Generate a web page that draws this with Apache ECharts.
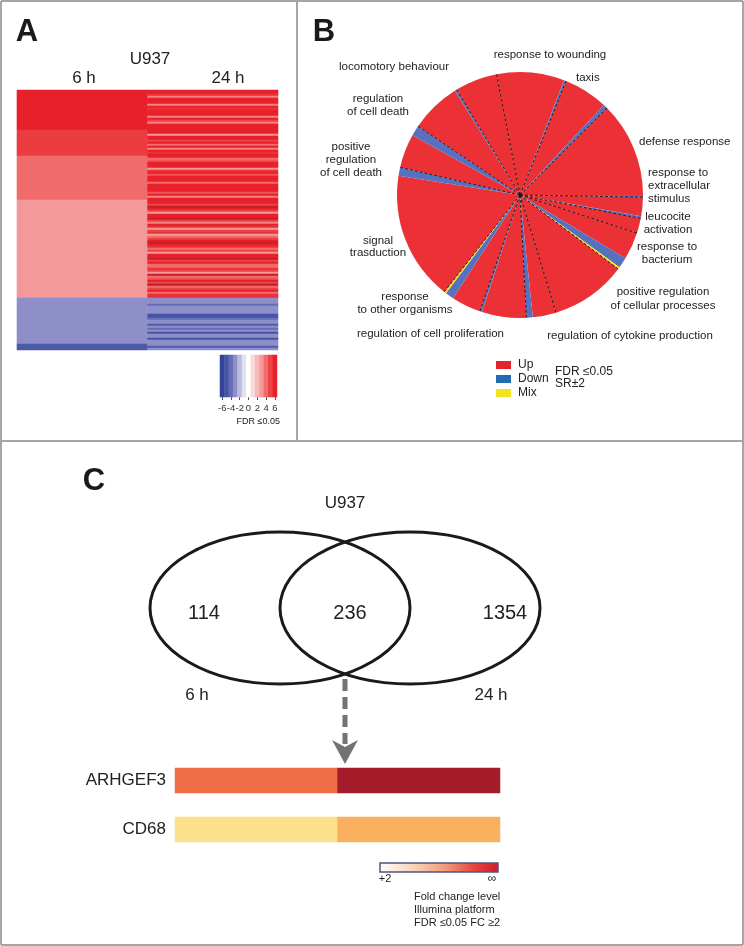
<!DOCTYPE html>
<html>
<head>
<meta charset="utf-8">
<script src="https://cdn.jsdelivr.net/npm/echarts@6/dist/echarts.min.js"></script>
<style>
  html, body { margin: 0; padding: 0; background: #fff; }
  #main { width: 744px; height: 946px; }
</style>
</head>
<body>
<div id="main"></div>
<script>
// ---- panel A: log2 ratio per gene row ----
const timePoints = ['6 h', '24 h'];
const heat6h = [
  6, 6, 6, 6, 6, 6, 6, 6, 6, 6, 6, 6, 6, 6, 6, 6, 6, 6, 6, 6,
  5.2, 5.2, 5.2, 5.2, 5.2, 5.2, 5.2, 5.2, 5.2, 5.2, 5.2, 5.2, 5.2,
  4, 4, 4, 4, 4, 4, 4, 4, 4, 4, 4, 4, 4, 4, 4, 4, 4, 4, 4, 4, 4, 4,
  3, 3, 3, 3, 3, 3, 3, 3, 3, 3, 3, 3, 3, 3, 3, 3, 3, 3, 3, 3, 3, 3, 3, 3, 3,
  3, 3, 3, 3, 3, 3, 3, 3, 3, 3, 3, 3, 3, 3, 3, 3, 3, 3, 3, 3, 3, 3, 3, 3,
  -3, -3, -3, -3, -3, -3, -3, -3, -3, -3, -3, -3, -3, -3, -3, -3, -3, -3, -3, -3, -3, -3, -3,
  -4.6, -4.6, -4.6
];
const heat24h = [
  6, 6, 5.5, 3.5, 6, 6, 6, 3.5, 6, 5.5, 6, 6, 6, 3.5, 6, 5, 3.5, 6, 6, 6,
  6, 6, 3, 6, 6, 5, 6, 4, 6, 3.5, 6, 5.5, 6, 6, 4, 4.5, 6, 6, 6, 3,
  5.5, 6, 4.5, 6, 6, 6, 4, 6, 6, 6, 6, 4.5, 6, 3.5, 6,
  6, 6, 5, 7, 6, 5, 3, 6, 6, 7, 5, 3.5, 6, 5.5, 3, 5, 5.5, 3, 4, 5,
  6, 7, 6, 5.5, 4, 5, 3, 6, 6, 7, 5, 6, 4, 4, 5.5, 5, 3, 7, 4, 4.5,
  6, 5, 7, 4, 5, 6, 4, 5.5, 5.5,
  -3, -3, -3, -4, -3, -3, -3, -3, -5, -5, -4, -3, -3, -4.5, -3, -4, -3, -5, -3, -3,
  -5, -3, -3, -3, -4.5, -3
];
const scaleSteps = [-6, -5, -4, -3, -2, -1, 0, 1, 2, 3, 4, 5, 6];

// ---- panel B: GO terms, slice share in degrees ----
const goTerms = [
  'response to wounding', 'taxis', 'defense response', 'response to extracellular stimulus',
  'leucocite activation', 'response to bacterium', 'positive regulation of cellular processes',
  'regulation of cytokine production', 'regulation of cell proliferation', 'response to other organisms',
  'signal trasduction', 'positive regulation of cell death', 'regulation of cell death', 'locomotory behaviour'
];
const upDeg   = [32, 21, 45, 9, 7, 13, 36, 11, 21, 14, 61, 16, 24, 20];
const downDeg = [1, 2, 1, 1, 0, 5, 0, 3, 1, 4, 4, 5, 1, 0];
const mixDeg  = [0, 0, 0, 0, 0, 1, 0, 0, 0, 1, 0, 0, 0, 0];

// ---- panel C: venn counts and fold change ----
const vennSets = ['6 h', '24 h'];
const vennCounts = [114, 236, 1354];
const genes = ['ARHGEF3', 'CD68'];
const fold6h = [6.8, 3.6];
const fold24h = [10, 5.2];

const FONT = "'Liberation Sans', Arial, sans-serif";
const chart = echarts.init(document.getElementById('main'), null, { renderer: 'canvas' });

const rows = heat6h.map((_, i) => i);
const heatData = [];
rows.forEach(i => {
  heatData.push([0, i, heat6h[i]]);
  heatData.push([1, i, heat24h[i]]);
});

// pie slices + boundary angles
const pieData = [];
const bounds = [];
let acc = 0;
goTerms.forEach((t, i) => {
  if (upDeg[i]) pieData.push({ name: t + ' up', value: upDeg[i], itemStyle: { color: '#ec3136' } });
  if (downDeg[i]) pieData.push({ name: t + ' down', value: downDeg[i], itemStyle: { color: '#5870c0' } });
  if (mixDeg[i]) pieData.push({ name: t + ' mix', value: mixDeg[i], itemStyle: { color: '#f3e21c' } });
  acc += upDeg[i] + downDeg[i] + mixDeg[i];
  bounds.push(acc);
});

const series = [
  {
    type: 'heatmap', xAxisIndex: 0, yAxisIndex: 0, data: heatData,
    itemStyle: { borderWidth: 0 }, silent: true
  },
  {
    type: 'heatmap', xAxisIndex: 1, yAxisIndex: 1,
    data: scaleSteps.map((v, i) => [i, 0, v]),
    itemStyle: { borderWidth: 0 }, silent: true
  },
  {
    type: 'pie', center: [520, 195], radius: [0, 123], startAngle: 101, clockwise: true,
    label: { show: false }, labelLine: { show: false }, silent: true,
    itemStyle: { borderWidth: 0 }, avoidLabelOverlap: false, data: pieData
  }
];
bounds.forEach(b => {
  series.push({
    type: 'line', coordinateSystem: 'polar', data: [[0, b], [1, b]],
    symbol: 'none', silent: true, z: 5,
    lineStyle: { color: '#151515', width: 0.9, type: [3, 2] }
  });
});
const iC = series.length;
series.push({
  type: 'heatmap', xAxisIndex: 2, yAxisIndex: 2,
  data: [[0, 0, fold6h[0]], [1, 0, fold24h[0]]], itemStyle: { borderWidth: 0 }, silent: true
});
series.push({
  type: 'heatmap', xAxisIndex: 3, yAxisIndex: 3,
  data: [[0, 0, fold6h[1]], [1, 0, fold24h[1]]], itemStyle: { borderWidth: 0 }, silent: true
});

function txt(x, y, text, size, opts) {
  opts = opts || {};
  return {
    type: 'text', x: x, y: y, silent: true,
    style: {
      text: text, fill: opts.color || '#222',
      font: (opts.bold ? 'bold ' : '') + size + 'px ' + FONT,
      textAlign: opts.align || 'center', textVerticalAlign: 'middle',
      lineHeight: opts.lh || Math.round(size * 1.15)
    }
  };
}
function line(x1, y1, x2, y2, color, w, dash) {
  return {
    type: 'line', silent: true,
    shape: { x1: x1, y1: y1, x2: x2, y2: y2 },
    style: { stroke: color, lineWidth: w, lineDash: dash || null }
  };
}

const frame = '#a6a6a6';
const graphic = [
  // frame
  line(1, 1, 743, 1, frame, 2), line(1, 1, 1, 945, frame, 2),
  line(743, 1, 743, 945, frame, 2), line(1, 945, 743, 945, frame, 2),
  line(297, 1, 297, 441, frame, 2), line(1, 441, 743, 441, frame, 2),

  // panel A
  txt(27, 32, 'A', 31, { bold: true, color: '#1a1a1a' }),
  txt(150, 59, 'U937', 17),
  txt(84, 78, timePoints[0], 17),
  txt(228, 78, timePoints[1], 17),
  txt(280, 422, 'FDR \u22640.05', 9, { align: 'right' }),

  // panel B
  txt(324, 32, 'B', 31, { bold: true, color: '#1a1a1a' }),
  txt(550, 55, 'response to wounding', 11.5),
  txt(449, 67, 'locomotory behaviour', 11.5, { align: 'right' }),
  txt(576, 78, 'taxis', 11.5, { align: 'left' }),
  txt(378, 105.5, 'regulation\nof cell death', 11.5, { lh: 13 }),
  txt(351, 160, 'positive\nregulation\nof cell death', 11.5, { lh: 13 }),
  txt(639, 142, 'defense response', 11.5, { align: 'left' }),
  txt(648, 186, 'response to\nextracellular\nstimulus', 11.5, { align: 'left', lh: 13 }),
  txt(668, 223.5, 'leucocite\nactivation', 11.5, { lh: 13 }),
  txt(667, 253.5, 'response to\nbacterium', 11.5, { lh: 13 }),
  txt(663, 299, 'positive regulation\nof cellular processes', 11.5, { lh: 14 }),
  txt(630, 336, 'regulation of cytokine production', 11.5),
  txt(504, 334, 'regulation of cell proliferation', 11.5, { align: 'right' }),
  txt(405, 303.5, 'response\nto other organisms', 11.5, { lh: 13 }),
  txt(378, 247, 'signal\ntrasduction', 11.5, { lh: 12 }),
  { type: 'rect', silent: true, shape: { x: 496, y: 361, width: 15, height: 8 }, style: { fill: '#e3222b' } },
  { type: 'rect', silent: true, shape: { x: 496, y: 375, width: 15, height: 8 }, style: { fill: '#2369b3' } },
  { type: 'rect', silent: true, shape: { x: 496, y: 389, width: 15, height: 8 }, style: { fill: '#f2e31a' } },
  txt(518, 365, 'Up', 12, { align: 'left' }),
  txt(518, 379, 'Down', 12, { align: 'left' }),
  txt(518, 393, 'Mix', 12, { align: 'left' }),
  txt(555, 372, 'FDR \u22640.05', 12, { align: 'left' }),
  txt(555, 384, 'SR\u00b12', 12, { align: 'left' }),

  // panel C
  txt(94, 481, 'C', 31, { bold: true, color: '#1a1a1a' }),
  txt(345, 503, 'U937', 17),
  { type: 'ellipse', silent: true, shape: { cx: 280, cy: 608, rx: 130, ry: 76 },
    style: { fill: 'none', stroke: '#1a1a1a', lineWidth: 3 } },
  { type: 'ellipse', silent: true, shape: { cx: 410, cy: 608, rx: 130, ry: 76 },
    style: { fill: 'none', stroke: '#1a1a1a', lineWidth: 3 } },
  txt(204, 613, String(vennCounts[0]), 20),
  txt(350, 613, String(vennCounts[1]), 20),
  txt(505, 613, String(vennCounts[2]), 20),
  txt(197, 695, vennSets[0], 17),
  txt(491, 695, vennSets[1], 17),
  line(345, 679, 345, 744, '#737373', 5, [12, 6]),
  { type: 'polygon', silent: true,
    shape: { points: [[332, 740], [345, 747], [358, 740], [345, 764]] },
    style: { fill: '#737373' } },
  { type: 'rect', silent: true, shape: { x: 380, y: 863, width: 118, height: 9 },
    style: {
      stroke: '#4c5680', lineWidth: 1.5,
      fill: new echarts.graphic.LinearGradient(0, 0, 1, 0, [
        { offset: 0, color: '#ffffff' }, { offset: 0.3, color: '#f9d2b4' },
        { offset: 0.55, color: '#f39a7a' }, { offset: 0.8, color: '#e6443e' },
        { offset: 1, color: '#cf1c2c' }
      ])
    } },
  txt(385, 879, '+2', 11),
  txt(492, 879, '\u221e', 12),
  txt(414, 897, 'Fold change level', 11, { align: 'left' }),
  txt(414, 910, 'Illumina platform', 11, { align: 'left' }),
  txt(414, 923, 'FDR \u22640.05 FC \u22652', 11, { align: 'left' })
];

const hidden = { show: false };
const option = {
  animation: false,
  backgroundColor: '#fff',
  textStyle: { fontFamily: FONT },
  grid: [
    { left: 17, top: 90, width: 261, height: 260 },
    { left: 220, top: 355, width: 57, height: 42 },
    { left: 175, top: 768, width: 325, height: 25 },
    { left: 175, top: 817, width: 325, height: 25 }
  ],
  xAxis: [
    { gridIndex: 0, type: 'category', data: timePoints, show: false },
    { gridIndex: 1, type: 'category', data: scaleSteps,
      axisLine: hidden,
      axisTick: { show: true, interval: 1, alignWithLabel: true, length: 3, lineStyle: { color: '#555' } },
      axisLabel: { interval: 1, fontSize: 9.5, color: '#333', margin: 6 } },
    { gridIndex: 2, type: 'category', data: timePoints, show: false },
    { gridIndex: 3, type: 'category', data: timePoints, show: false }
  ],
  yAxis: [
    { gridIndex: 0, type: 'category', data: rows, inverse: true, show: false },
    { gridIndex: 1, type: 'category', data: ['scale'], show: false },
    { gridIndex: 2, type: 'category', data: [genes[0]], axisLine: hidden, axisTick: hidden,
      axisLabel: { fontSize: 17, color: '#222', margin: 9 } },
    { gridIndex: 3, type: 'category', data: [genes[1]], axisLine: hidden, axisTick: hidden,
      axisLabel: { fontSize: 17, color: '#222', margin: 9 } }
  ],
  polar: { center: [520, 195], radius: 123 },
  angleAxis: { type: 'value', min: 0, max: 360, startAngle: 101, clockwise: true, show: false },
  radiusAxis: { type: 'value', min: 0, max: 1, show: false },
  visualMap: [
    { type: 'continuous', show: false, min: -6, max: 7.5, dimension: 2, seriesIndex: [0, 1],
      inRange: { color: ['#34449a', '#4f5cab', '#8e8fc8', '#cfd0e8', '#ffffff',
                         '#f8c9c9', '#f4999a', '#ee5555', '#e8202a', '#b81a26'] } },
    { type: 'continuous', show: false, min: 2, max: 10, dimension: 2, seriesIndex: [iC, iC + 1],
      inRange: { color: ['#fff6ee', '#fde08c', '#fbb060', '#f06e45', '#d43a33', '#a51c2a'] } }
  ],
  graphic: graphic,
  series: series
};
chart.setOption(option);
</script>
</body>
</html>
